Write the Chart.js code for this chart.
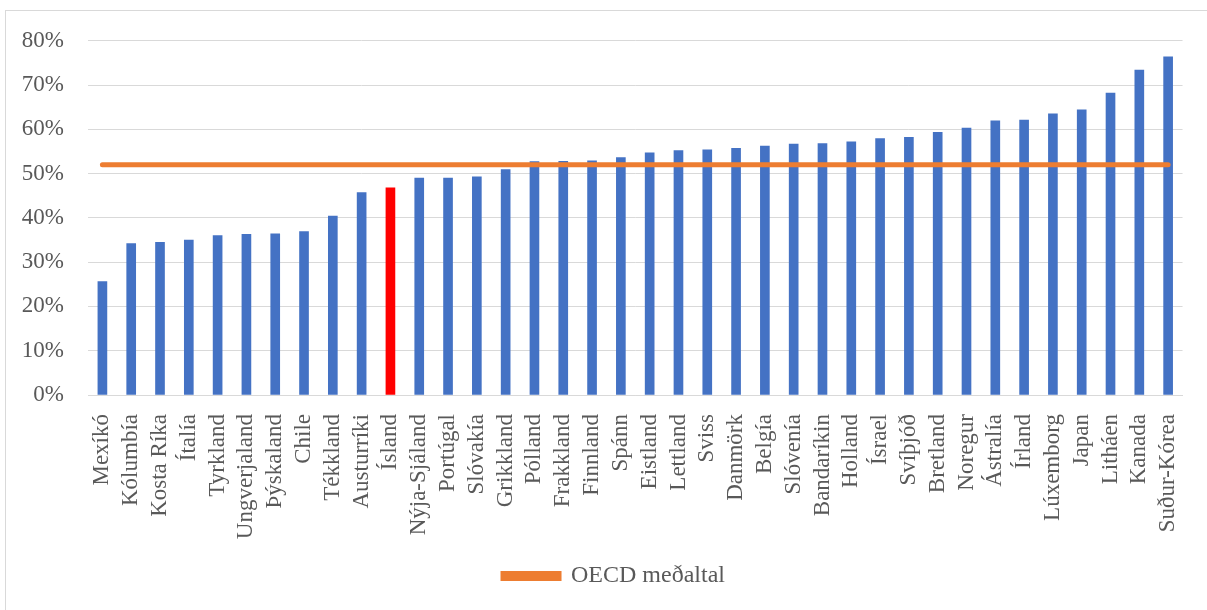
<!DOCTYPE html>
<html>
<head>
<meta charset="utf-8">
<script src="https://cdn.jsdelivr.net/npm/chart.js@4/dist/chart.umd.min.js"></script>
<style>
    body { margin: 0; background: #fff; }
    #frame {
        position: absolute; left: 5px; top: 10px; width: 1300px; height: 700px;
        border-left: 1px solid #d9d9d9; border-top: 1px solid #d9d9d9;
    }
    #wrap { position: absolute; left: 6px; top: 3px; width: 1201px; height: 607px; }
</style>
</head>
<body>
<div id="frame"></div>
<div id="wrap"><canvas id="chart"></canvas></div>
<script>
'use strict';

const countries = [
    'Mexíkó', 'Kólumbía', 'Kosta Ríka', 'Ítalía', 'Tyrkland', 'Ungverjaland', 'Þýskaland',
    'Chile', 'Tékkland', 'Austurríki', 'Ísland', 'Nýja-Sjáland', 'Portúgal', 'Slóvakía',
    'Grikkland', 'Pólland', 'Frakkland', 'Finnland', 'Spánn', 'Eistland', 'Lettland',
    'Sviss', 'Danmörk', 'Belgía', 'Slóvenía', 'Bandaríkin', 'Holland', 'Ísrael',
    'Svíþjóð', 'Bretland', 'Noregur', 'Ástralía', 'Írland', 'Lúxemborg', 'Japan',
    'Litháen', 'Kanada', 'Suður-Kórea',
];
const shares = [
    25.6, 34.2, 34.5, 35.0, 36.0, 36.3, 36.4,
    36.9, 40.4, 45.7, 46.8, 49.0, 49.0, 49.3,
    50.9, 52.7, 52.8, 52.9, 53.6, 54.7, 55.2,
    55.4, 55.7, 56.2, 56.7, 56.8, 57.2, 57.9,
    58.2, 59.3, 60.3, 61.9, 62.1, 63.5, 64.4,
    68.2, 73.4, 76.4,
];
const oecdAverage = 52;
const highlight = 'Ísland';
const yTicks = [0, 10, 20, 30, 40, 50, 60, 70, 80];

const blue = '#4472C4';
const red = '#FF0000';
const orange = '#ED7D31';
const textColor = '#595959';
const gridColor = '#d9d9d9';
const family = '"Liberation Serif", "Times New Roman", serif';
const font = { family: family, size: 23 };

const barColors = countries.map(c => c === highlight ? red : blue);

// the original legend sits a little right of centre
const legendShift = {
    id: 'legendShift',
    afterLayout(chart) {
        chart.legend.left += 18;
        chart.legend.right += 18;
    },
};

new Chart(document.getElementById('chart').getContext('2d'), {
    data: {
        labels: countries,
        datasets: [
            {
                type: 'line',
                label: 'OECD meðaltal',
                data: countries.map(() => oecdAverage),
                borderColor: orange,
                backgroundColor: orange,
                borderWidth: 5,
                borderCapStyle: 'round',
                pointRadius: 0,
                order: 0,
            },
            {
                type: 'bar',
                label: 'share',
                data: shares,
                backgroundColor: barColors,
                barThickness: 9,
                order: 1,
            },
        ],
    },
    options: {
        responsive: true,
        maintainAspectRatio: false,
        animation: false,
        layout: { padding: { left: 0, right: 21, top: 13, bottom: 12 } },
        plugins: {
            tooltip: { enabled: false },
            legend: {
                position: 'bottom',
                labels: {
                    filter: item => item.text === 'OECD meðaltal',
                    boxWidth: 56,
                    boxHeight: 5,
                    color: textColor,
                    font: { family: family, size: 24 },
                    padding: 10,
                },
            },
        },
        scales: {
            x: {
                grid: { display: false },
                border: { color: gridColor },
                ticks: {
                    color: textColor,
                    font: font,
                    minRotation: 90,
                    maxRotation: 90,
                    autoSkip: false,
                    padding: 11,
                },
                afterFit: scale => { scale.height = 159; },
            },
            y: {
                min: 0,
                max: 80,
                afterBuildTicks: scale => { scale.ticks = yTicks.map(v => ({ value: v })); },
                grid: { color: gridColor, drawTicks: false },
                border: { display: false },
                ticks: {
                    color: textColor,
                    font: font,
                    padding: 24,
                    callback: v => v + '%',
                },
                afterFit: scale => { scale.width = 82; },
            },
        },
    },
    plugins: [legendShift],
});
</script>
</body>
</html>
